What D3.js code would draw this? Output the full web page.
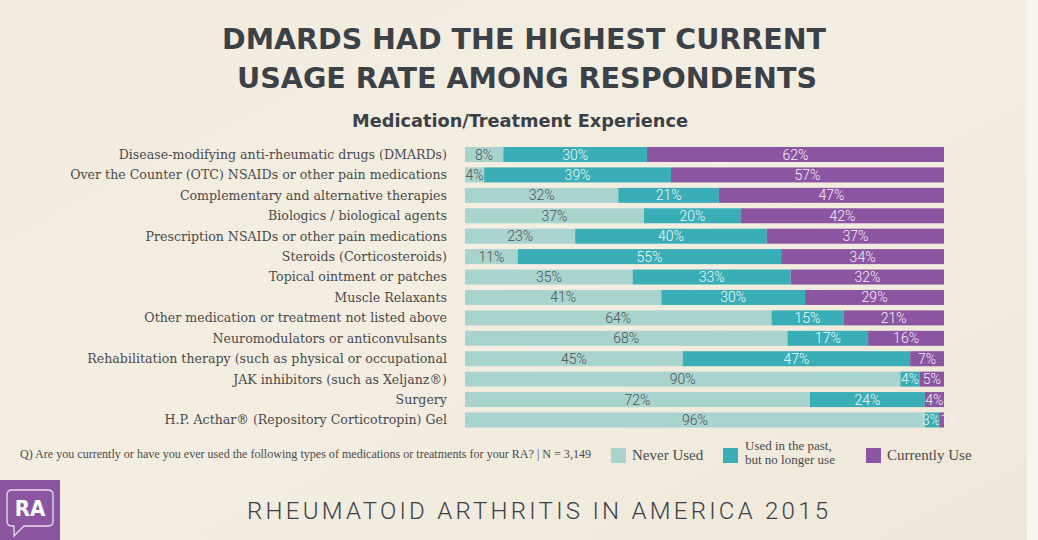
<!DOCTYPE html>
<html><head><meta charset="utf-8">
<script src="https://cdn.jsdelivr.net/npm/d3@7"></script>
<style>
html,body{margin:0;padding:0;background:#f3ede1;}
svg{display:block;}
</style></head>
<body>
<svg id="chart" width="1038" height="540"></svg>
<script>
const categories = [
  "Disease-modifying anti-rheumatic drugs (DMARDs)",
  "Over the Counter (OTC) NSAIDs or other pain medications",
  "Complementary and alternative therapies",
  "Biologics / biological agents",
  "Prescription NSAIDs or other pain medications",
  "Steroids (Corticosteroids)",
  "Topical ointment or patches",
  "Muscle Relaxants",
  "Other medication or treatment not listed above",
  "Neuromodulators or anticonvulsants",
  "Rehabilitation therapy (such as physical or occupational",
  "JAK inhibitors (such as Xeljanz\u00AE)",
  "Surgery",
  "H.P. Acthar\u00AE (Repository Corticotropin) Gel"
];
const neverUsed   = [8, 4, 32, 37, 23, 11, 35, 41, 64, 68, 45, 90, 72, 96];
const pastUse     = [30, 39, 21, 20, 40, 55, 33, 30, 15, 17, 47, 4, 24, 3];
const currentUse  = [62, 57, 47, 42, 37, 34, 32, 29, 21, 16, 7, 5, 4, 1];
const seriesKeys  = ["never", "past", "current"];
const seriesNames = ["Never Used", "Used in the past,|but no longer use", "Currently Use"];
const colors      = ["#a9d3cd", "#3aaeb6", "#8b55a2"];
const labelColors = ["#4b5157", "#f4f8f8", "#f6f1f8"];

const titleLines = ["DMARDS HAD THE HIGHEST CURRENT", "USAGE RATE AMONG RESPONDENTS"];
const subtitle = "Medication/Treatment Experience";
const note = "Q) Are you currently or have you ever used the following types of medications or treatments for your RA? | N = 3,149";
const footer = "RHEUMATOID ARTHRITIS IN AMERICA 2015";

const rows = categories.map((c, i) => ({cat: c, never: neverUsed[i], past: pastUse[i], current: currentUse[i]}));

const svg = d3.select("#chart");
const W = 1038, H = 540;

// background paper
const defs = svg.append("defs");
const bg = defs.append("linearGradient").attr("id", "bg").attr("x1", 0).attr("y1", 0).attr("x2", 1).attr("y2", 1);
bg.append("stop").attr("offset", "0%").attr("stop-color", "#f2ebde");
bg.append("stop").attr("offset", "50%").attr("stop-color", "#f4eee2");
bg.append("stop").attr("offset", "100%").attr("stop-color", "#eee7d9");
svg.append("rect").attr("width", W).attr("height", H).attr("fill", "url(#bg)");
svg.append("rect").attr("x", 1027).attr("y", 0).attr("width", 11).attr("height", H).attr("fill", "#f8f5ee");

// titles
const tfont = "'DejaVu Sans Condensed', 'DejaVu Sans', sans-serif";
svg.append("text").attr("x", 222).attr("y", 49).attr("textLength", 604).attr("lengthAdjust", "spacingAndGlyphs")
  .attr("font-family", tfont).attr("font-weight", "bold").attr("font-size", 29).attr("fill", "#3c4047").text(titleLines[0]);
svg.append("text").attr("x", 237).attr("y", 88).attr("textLength", 580).attr("lengthAdjust", "spacingAndGlyphs")
  .attr("font-family", tfont).attr("font-weight", "bold").attr("font-size", 29).attr("fill", "#3c4047").text(titleLines[1]);
svg.append("text").attr("x", 352).attr("y", 127).attr("textLength", 336).attr("lengthAdjust", "spacingAndGlyphs")
  .attr("font-family", tfont).attr("font-weight", "bold").attr("font-size", 18).attr("fill", "#3c4047").text(subtitle);

// scales
const x = d3.scaleLinear().domain([0, 1]).range([465, 944]);
const y = d3.scaleBand().domain(categories).range([144.3, 430.2]).paddingInner(0.265).paddingOuter(0.1325);

const stack = d3.stack().keys(seriesKeys).offset(d3.stackOffsetExpand);
const stacked = stack(rows);

function labelPos(li, d, i) {
  const x0 = x(d[0]), x1 = x(d[1]);
  const w = x1 - x0;
  if (li === 2 && w < 10) return {x: x0 + 1, anchor: "start"};
  if (li === 1 && stacked[2][i] && (x(stacked[2][i][1]) - x(stacked[2][i][0])) < 10) return {x: x1 + 1, anchor: "end"};
  return {x: (x0 + x1) / 2, anchor: "middle"};
}

const g = svg.append("g");
stacked.forEach((layer, li) => {
  const lg = g.append("g");
  lg.selectAll("rect").data(layer).join("rect")
    .attr("x", d => x(d[0])).attr("width", d => x(d[1]) - x(d[0]))
    .attr("y", d => y(d.data.cat)).attr("height", y.bandwidth())
    .attr("fill", colors[li]);
  lg.selectAll("text").data(layer).join("text")
    .attr("x", (d, i) => labelPos(li, d, i).x)
    .attr("text-anchor", (d, i) => labelPos(li, d, i).anchor)
    .attr("y", d => y(d.data.cat) + y.bandwidth() / 2 + 5)
    .attr("font-family", "Roboto, sans-serif").attr("font-weight", 300).attr("font-size", 14)
    .attr("fill", labelColors[li])
    .text(d => d.data[seriesKeys[li]] + "%");
});

// category labels
const axis = d3.axisLeft(y).tickSize(0).tickPadding(0);
const ag = svg.append("g").attr("transform", "translate(447,0)").call(axis);
ag.select(".domain").remove();
ag.selectAll("text").attr("font-family", "'DejaVu Serif', serif").attr("font-size", 12.6)
  .attr("fill", "#4a4a4a").attr("dy", "0.35em");

// note
svg.append("text").attr("x", 20).attr("y", 458).attr("textLength", 571).attr("lengthAdjust", "spacingAndGlyphs")
  .attr("font-family", "'Liberation Serif', serif").attr("font-size", 11.5).attr("fill", "#4a4a4a").text(note);

// legend
const legX = [611, 723, 866];
const legend = svg.append("g");
seriesNames.forEach((n, i) => {
  legend.append("rect").attr("x", legX[i]).attr("y", 448).attr("width", 15).attr("height", 15).attr("fill", colors[i]);
  const parts = n.split("|");
  if (parts.length === 1) {
    legend.append("text").attr("x", legX[i] + 21).attr("y", 460)
      .attr("font-family", "'Liberation Serif', serif").attr("font-size", 15).attr("fill", "#4a4a4a").text(parts[0]);
  } else {
    parts.forEach((p, j) => legend.append("text").attr("x", legX[i] + 22).attr("y", 450 + j * 14)
      .attr("font-family", "'Liberation Serif', serif").attr("font-size", 13).attr("fill", "#4a4a4a").text(p));
  }
});

// footer
svg.append("text").attr("x", 247).attr("y", 519).attr("textLength", 581).attr("lengthAdjust", "spacing")
  .attr("font-family", "Roboto, sans-serif").attr("font-weight", 300).attr("font-size", 24).attr("fill", "#3c4047").text(footer);

// RA logo
const logo = svg.append("g");
logo.append("rect").attr("x", 0).attr("y", 480).attr("width", 60).attr("height", 60).attr("fill", "#8b55a2");
logo.append("path").attr("d", "M12,490 H48 Q53,490 53,495 V521 Q53,526 48,526 H24 L14,536 V526 H12 Q7,526 7,521 V495 Q7,490 12,490 Z")
  .attr("fill", "none").attr("stroke", "#e9dcef").attr("stroke-width", 1.3);
logo.append("text").attr("x", 30).attr("y", 516).attr("text-anchor", "middle")
  .attr("font-family", tfont).attr("font-weight", "bold").attr("font-size", 22).attr("fill", "#ffffff").text("RA");
</script>
</body></html>
